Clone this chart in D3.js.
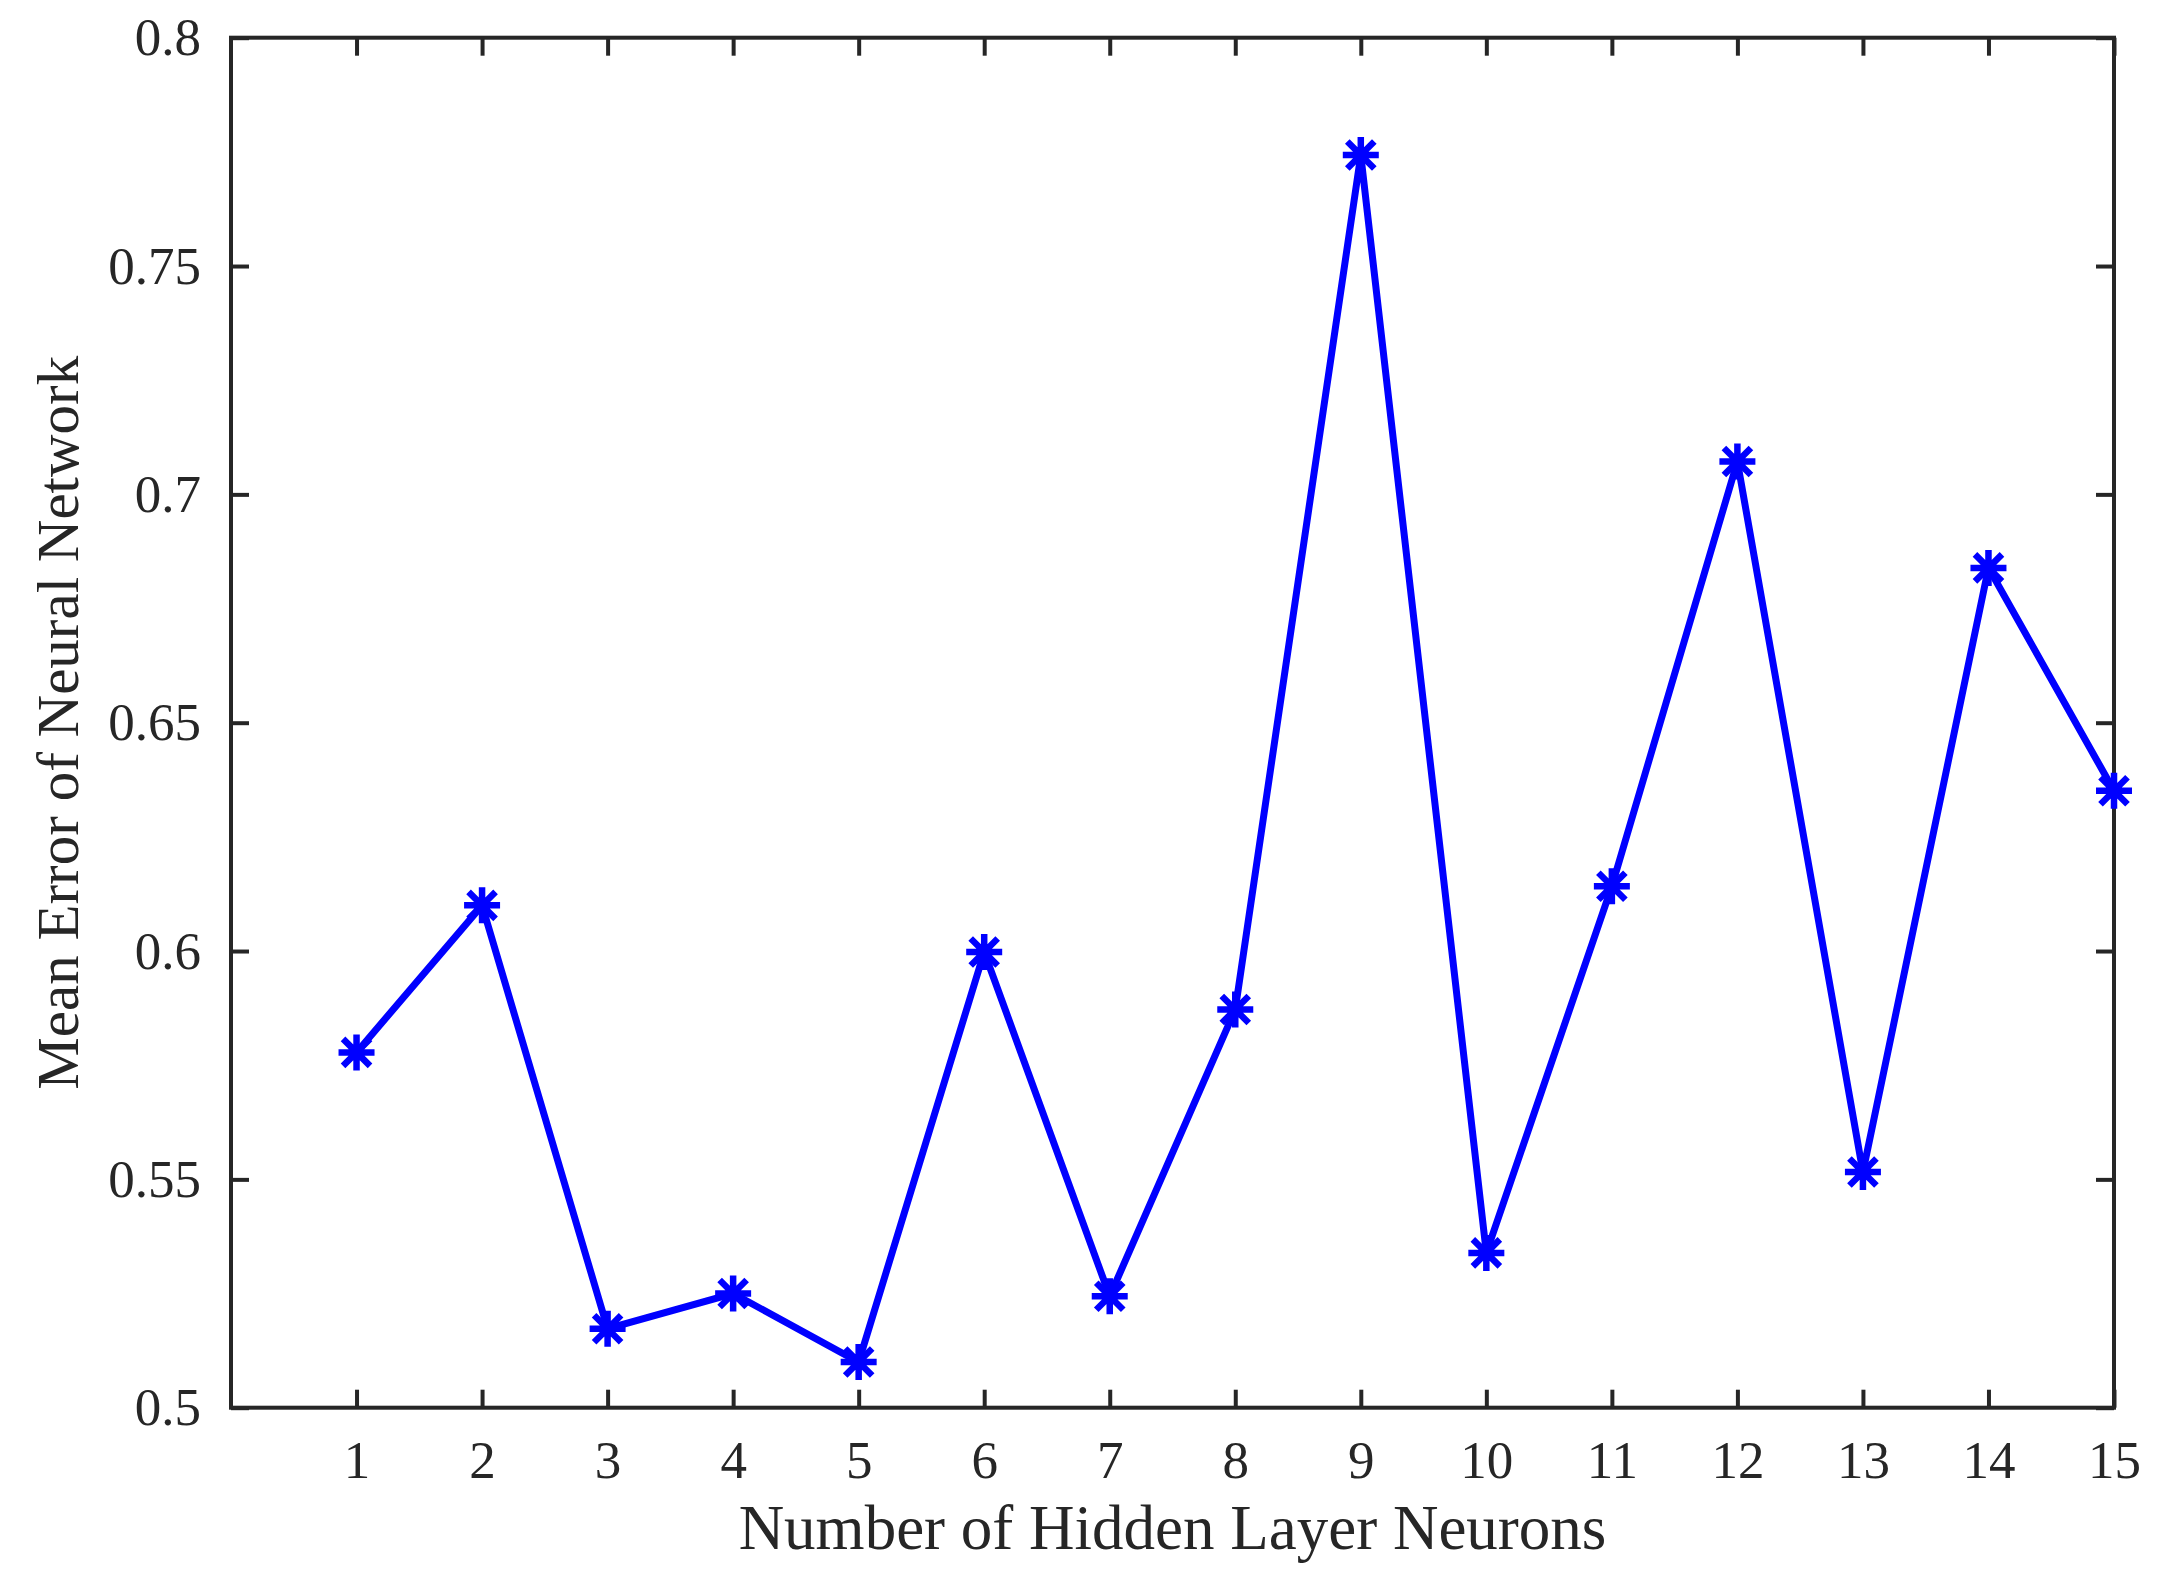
<!DOCTYPE html>
<html>
<head>
<meta charset="utf-8">
<script src="https://cdn.jsdelivr.net/npm/d3@7"></script>
<style>
  html, body { margin: 0; padding: 0; background: #fff; }
  svg { display: block; }
  text { font-family: "Liberation Serif", "Times New Roman", serif; fill: #262626; }
</style>
</head>
<body>
<svg id="chart" width="2164" height="1590"></svg>
<script>
// Data
const neurons = [1, 2, 3, 4, 5, 6, 7, 8, 9, 10, 11, 12, 13, 14, 15];
const meanError = [0.5778, 0.610, 0.5173, 0.525, 0.5100, 0.5998, 0.5244, 0.5872, 0.7743, 0.5339, 0.6142, 0.7072, 0.5516, 0.6839, 0.6351];
const xTicks = [1, 2, 3, 4, 5, 6, 7, 8, 9, 10, 11, 12, 13, 14, 15];
const yTicks = [0.5, 0.55, 0.6, 0.65, 0.7, 0.75, 0.8];
const xLabel = "Number of Hidden Layer Neurons";
const yLabel = "Mean Error of Neural Network";

const svg = d3.select("#chart");
const L = 231, R = 2114, T = 37.7, B = 1407.7;
const axisColor = "#262626";
const tickLen = 18;

const x = d3.scaleLinear().domain([0, 15]).range([L, R]);
const y = d3.scaleLinear().domain([0.5, 0.8]).range([B, T]);

const g = svg.append("g");
function styleAxis(sel) {
  sel.select(".domain").remove();
  sel.selectAll(".tick line").attr("stroke", axisColor).attr("stroke-width", 4);
  sel.selectAll(".tick text").style("font-size", "53px").attr("fill", axisColor);
}
const xb = g.append("g").attr("transform", `translate(0,${B})`)
  .call(d3.axisBottom(x).tickValues(xTicks).tickSizeInner(-tickLen).tickSizeOuter(0).tickPadding(33).tickFormat(d3.format("d")));
styleAxis(xb);
const xt = g.append("g").attr("transform", `translate(0,${T})`)
  .call(d3.axisTop(x).tickValues(xTicks).tickSizeInner(-tickLen).tickSizeOuter(0).tickFormat(""));
styleAxis(xt);
const yl = g.append("g").attr("transform", `translate(${L},0)`)
  .call(d3.axisLeft(y).tickValues(yTicks).tickSizeInner(-tickLen).tickSizeOuter(0).tickPadding(30).tickFormat(d => String(+d.toFixed(2))));
styleAxis(yl);
const yr = g.append("g").attr("transform", `translate(${R},0)`)
  .call(d3.axisRight(y).tickValues(yTicks).tickSizeInner(-tickLen).tickSizeOuter(0).tickFormat(""));
styleAxis(yr);

g.append("rect").attr("x", L).attr("y", T).attr("width", R - L).attr("height", B - T)
  .attr("fill", "none").attr("stroke", axisColor).attr("stroke-width", 4);

const data = neurons.map((n, i) => ({ n, v: meanError[i] }));
svg.append("path").datum(data)
  .attr("fill", "none").attr("stroke", "#0000ff").attr("stroke-width", 7)
  .attr("stroke-linejoin", "miter")
  .attr("d", d3.line().x(d => x(d.n)).y(d => y(d.v)));

const a = 18, dgl = 13.5;
const star = `M${-a},0L${a},0M0,${-a}L0,${a}M${-dgl},${-dgl}L${dgl},${dgl}M${-dgl},${dgl}L${dgl},${-dgl}`;
svg.append("g").selectAll("path").data(data).join("path")
  .attr("transform", d => `translate(${x(d.n)},${y(d.v)})`)
  .attr("d", star).attr("stroke", "#0000ff").attr("stroke-width", 6.5).attr("fill", "none");

svg.append("text").attr("x", (L + R) / 2).attr("y", 1549)
  .attr("text-anchor", "middle").style("font-size", "63px").text(xLabel);
svg.append("text").attr("transform", `translate(78,${(T + B) / 2}) rotate(-90)`)
  .attr("text-anchor", "middle").style("font-size", "59px").text(yLabel);
</script>
</body>
</html>
